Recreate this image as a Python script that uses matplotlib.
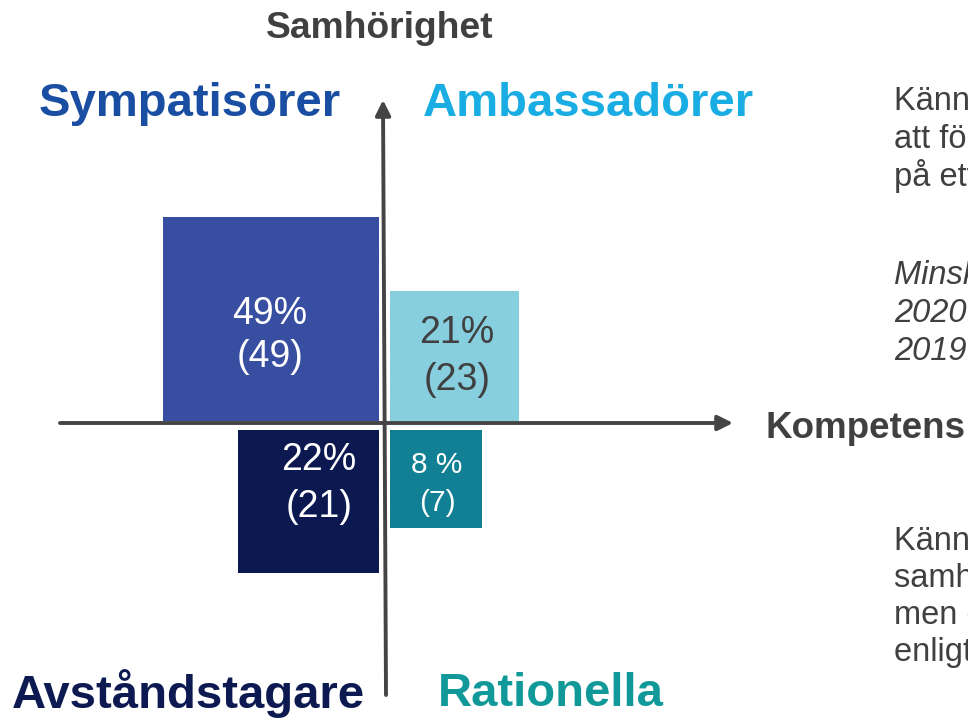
import matplotlib.pyplot as plt
from matplotlib.patches import Rectangle

plt.rcParams['font.family'] = ['Liberation Sans', 'DejaVu Sans']

# segments and their shares (current year, previous year in parentheses)
segments = ['Sympatisörer', 'Ambassadörer', 'Avståndstagare', 'Rationella']
share_now = [49, 21, 22, 8]
share_prev = [49, 23, 21, 7]
now_fmt = ['{}%', '{}%', '{}%', '{} %']

seg_colors = ['#1a4ea3', '#19ade3', '#0d1a52', '#11999a']
box_colors = ['#384ea0', '#87cfdf', '#0c1850', '#128094']
label_colors = ['white', '#404040', 'white', 'white']
gray = '#404040'

# box extents in pixels: left, top, right, bottom
boxes = [(163, 217, 379, 421), (390, 291, 519, 421),
         (238, 430, 379, 573), (390, 430, 482, 528)]
label_pos = [(270, 314, 357), (457, 333, 380), (319, 460, 507), (437, 465, 503)]
label_size = [27, 27, 27, 21.5]
seg_pos = [(190, 104), (588, 104), (188, 694), (551, 694)]

fig = plt.figure(figsize=(9.68, 7.18), dpi=100)
ax = fig.add_axes([0, 0, 1, 1])
ax.set_xlim(0, 968)
ax.set_ylim(718, 0)
ax.axis('off')

# quadrant boxes
for (l, t, r, b), c in zip(boxes, box_colors):
    ax.add_patch(Rectangle((l, t), r - l, b - t, facecolor=c, edgecolor='none'))

for i in range(len(segments)):
    x, y1, y2 = label_pos[i]
    ax.text(x, y1, now_fmt[i].format(share_now[i]), color=label_colors[i],
            fontsize=label_size[i], ha='center', va='center')
    ax.text(x, y2, '({})'.format(share_prev[i]), color=label_colors[i],
            fontsize=label_size[i], ha='center', va='center')
    sx, sy = seg_pos[i]
    ax.text(sx, sy, segments[i], color=seg_colors[i], fontsize=34,
            fontweight='bold', ha='center', va='center')

# axes with arrows
ax.annotate('', xy=(733, 423), xytext=(60, 423),
            arrowprops=dict(arrowstyle='-|>,head_length=0.9,head_width=0.45',
                            color='#444444', lw=2.8, shrinkA=0, shrinkB=0))
ax.annotate('', xy=(383, 100), xytext=(386, 695),
            arrowprops=dict(arrowstyle='-|>,head_length=0.9,head_width=0.45',
                            color='#444444', lw=2.8, shrinkA=0, shrinkB=0))

ax.text(380, 29, 'Samhörighet', color=gray, fontsize=26.8, fontweight='bold',
        ha='center', va='center')
ax.text(765, 428, 'Kompetens', color=gray, fontsize=26.5, fontweight='bold',
        ha='left', va='center')

# side notes (run off the right edge in the original slide)
top_note = ['Känner samhörighet och tycker', 'att föreningen arbetar',
            'på ett kompetent sätt']
top_italic = ['Minskning från', '2020: 21 %', '2019: 23 %']
bottom_note = ['Känner ingen', 'samhörighet med föreningen,',
               'men den arbetar kompetent', 'enligt dem']

for i, s in enumerate(top_note):
    ax.text(894, 110 + 38 * i, s, color=gray, fontsize=23.5, va='baseline',
            ha='left')
for i, s in enumerate(top_italic):
    ax.text(894, 284 + 38 * i, s, color=gray, fontsize=23.5, va='baseline',
            ha='left', style='italic')
for i, s in enumerate(bottom_note):
    ax.text(894, 550 + 37 * i, s, color=gray, fontsize=23.5, va='baseline',
            ha='left')

fig.savefig('out.png', dpi=100)
